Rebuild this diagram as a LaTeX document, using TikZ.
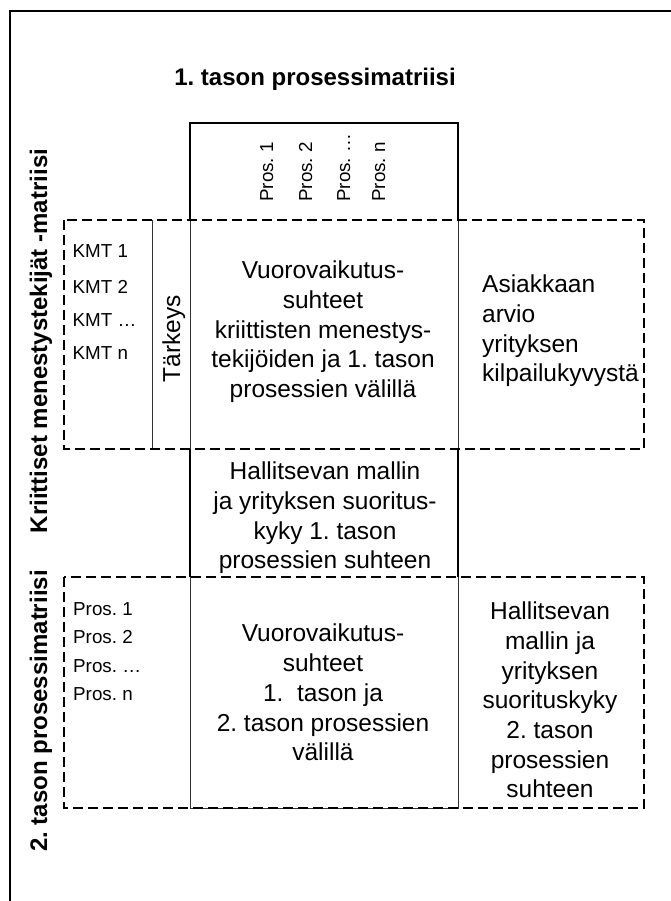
\documentclass[tikz,border=0pt]{standalone}
\usepackage{fontspec}
\setmainfont{Liberation Sans}
\frenchspacing
\begin{document}
\begin{tikzpicture}[x=1pt,y=-1pt,
  framerule/.style={line width=2.3pt},
  heavy/.style={line width=2.5pt},
  dashband/.style={line width=2.5pt, dash pattern=on 10pt off 5pt},
  thinrule/.style={line width=1pt, black!80},
  body/.style={font=\fontsize{24.5}{29.7}\selectfont, inner sep=0pt, align=center},
  bodyleft/.style={body, align=left},
  small/.style={font=\fontsize{18.8}{22}\selectfont, inner sep=0pt},
  heading/.style={font=\bfseries\fontsize{24}{29}\selectfont, inner sep=0pt}]
\useasboundingbox (0,0) rectangle (671,901);

% key corners of the grid
\coordinate (tbl) at (190,220);
\coordinate (tbr) at (458,220);
\coordinate (tbtl) at (190,123);
\coordinate (tbtr) at (458,123);
\coordinate (mtl) at (190,449);
\coordinate (mtr) at (458,449);
\coordinate (mbl) at (190,577);
\coordinate (mbr) at (458,577);
\coordinate (bl) at (190,808);
\coordinate (br) at (458,808);
\coordinate (ua) at (64,220);
\coordinate (ub) at (644,449);
\coordinate (la) at (64,577);
\coordinate (lb) at (644,808);
\coordinate (tka) at (152,220);
\coordinate (tkb) at (152,449);

% outer frame (left and top edges)
\draw[framerule] (10,902) -- (10,11) -- (672,11);

% thin column rules
\draw[thinrule] (tbl) -- (mtl);
\draw[thinrule] (tbr) -- (mtr);
\draw[thinrule] (mbl) -- (bl) -- (br) -- (mbr);
\draw[thinrule] (tka) -- (tkb);

% dashed bands
\draw[dashband] (ua) rectangle (ub);
\draw[dashband] (la) rectangle (lb);

% solid boxes of the centre column
\draw[heavy] (tbl) -- (tbtl) -- (tbtr) -- (tbr);
\draw[heavy] (mtl) -- (mbl);
\draw[heavy] (mtr) -- (mbr);

% headings
\node[heading, anchor=base] (title) at (315,85.5) {1. tason prosessimatriisi};
\node[heading, rotate=90, anchor=base] (kmtlabel) at (47,341) {Kriittiset menestystekijät -matriisi};
\node[heading, rotate=90, anchor=base] (p2label) at (47,711) {2. tason prosessimatriisi};

% column headers of the first-level matrix
\node[small, rotate=90, anchor=base west] (c1) at (273,202) {Pros. 1};
\node[small, rotate=90, anchor=base west] (c2) at (312,202) {Pros. 2};
\node[small, rotate=90, anchor=base west] (c3) at (350,202) {Pros. …};
\node[small, rotate=90, anchor=base west] (c4) at (385,202) {Pros. n};

% success factor rows
\node[small, anchor=base west] (k1) at (72.5,258) {KMT 1};
\node[small, anchor=base west] (k2) at (72.5,293) {KMT 2};
\node[small, anchor=base west] (k3) at (72.5,326) {KMT …};
\node[small, anchor=base west] (k4) at (72.5,359) {KMT n};
\node[body, rotate=90, anchor=base] (weight) at (180,339) {Tärkeys};

% upper band
\node[body, anchor=north] (upc) at (323,260.8)
  {Vuorovaikutus-\\suhteet\\kriittisten menestys-\\tekijöiden ja 1. tason\\prosessien välillä};
\node[bodyleft, anchor=north west] (upr) at (482,274.8)
  {Asiakkaan\\arvio\\yrityksen\\kilpailukyvystä};

% middle box
\node[body, anchor=north] (mid) at (325,461.8)
  {Hallitsevan mallin\\ja yrityksen suoritus-\\kyky 1. tason\\prosessien suhteen};

% second-level rows
\node[small, anchor=base west] (q1) at (73,615) {Pros. 1};
\node[small, anchor=base west] (q2) at (73,643) {Pros. 2};
\node[small, anchor=base west] (q3) at (73,672) {Pros. …};
\node[small, anchor=base west] (q4) at (73,700) {Pros. n};

% lower band
\node[body, anchor=north] (lowc) at (323,624)
  {Vuorovaikutus-\\suhteet\\1.\ \ tason ja\\2. tason prosessien\\välillä};
\node[body, anchor=north] (lowr) at (550,601.8)
  {Hallitsevan\\mallin ja\\yrityksen\\suorituskyky\\2. tason\\prosessien\\suhteen};
\end{tikzpicture}
\end{document}
